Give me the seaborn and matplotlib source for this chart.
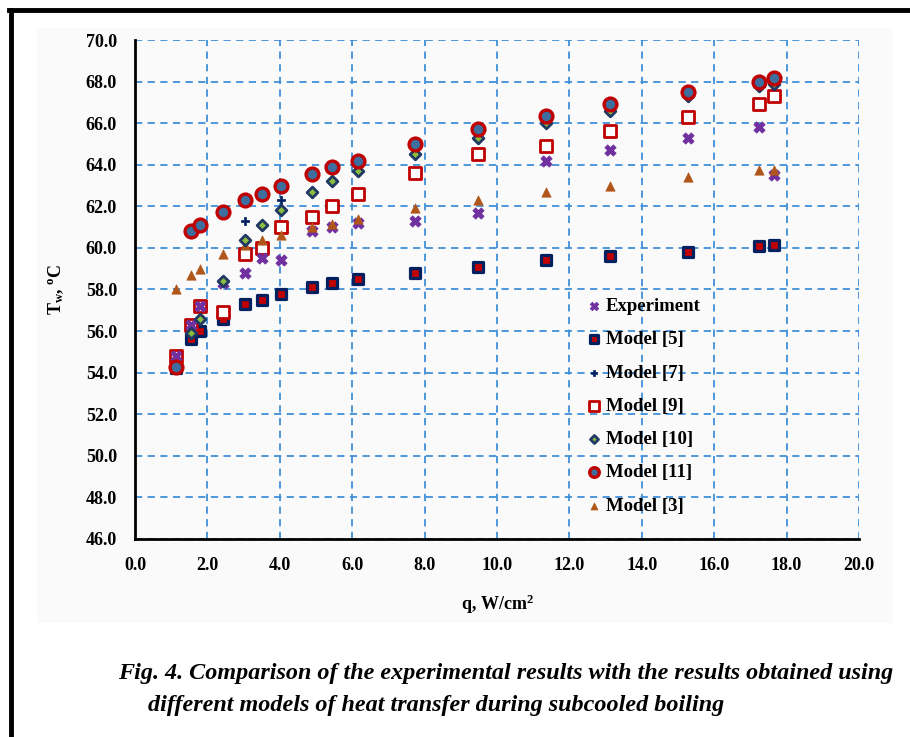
import numpy as np
import pandas as pd
import seaborn as sb
import matplotlib.pyplot as plt
from matplotlib.lines import Line2D
from matplotlib.patches import Rectangle

# data
q = [1.14, 1.54, 1.80, 2.42, 3.05, 3.50, 4.02, 4.89, 5.45, 6.17, 7.74, 9.47, 11.34, 13.12, 15.27, 17.25, 17.65]
experiment = [54.8, 56.3, 57.2, 58.3, 58.8, 59.5, 59.4, 60.8, 61.0, 61.2, 61.3, 61.7, 64.2, 64.7, 65.3, 65.8, 63.5]
model_5 = [54.2, 55.6, 56.0, 56.6, 57.3, 57.5, 57.8, 58.1, 58.3, 58.5, 58.8, 59.1, 59.4, 59.6, 59.8, 60.1, 60.15]
model_7 = [54.3, 55.9, 56.6, 58.4, 61.3, 61.1, 62.3, 62.7, 63.2, 63.7, 64.5, 65.3, 66.0, 66.6, 67.3, 67.8, 67.9]
model_9 = [54.8, 56.3, 57.2, 56.9, 59.7, 60.0, 61.0, 61.5, 62.0, 62.6, 63.6, 64.5, 64.9, 65.6, 66.3, 66.9, 67.3]
model_10 = [54.3, 55.9, 56.6, 58.4, 60.4, 61.1, 61.8, 62.7, 63.2, 63.7, 64.5, 65.3, 66.0, 66.6, 67.3, 67.8, 67.9]
model_11 = [54.25, 60.8, 61.1, 61.75, 62.3, 62.6, 63.0, 63.55, 63.9, 64.2, 65.0, 65.7, 66.35, 66.9, 67.5, 68.0, 68.15]
model_3 = [58.0, 58.7, 59.0, 59.7, 60.15, 60.4, 60.6, 61.0, 61.15, 61.4, 61.9, 62.3, 62.7, 63.0, 63.4, 63.75, 63.75]
legend_order = ["Experiment", "Model [5]", "Model [7]", "Model [9]", "Model [10]", "Model [11]", "Model [3]"]

# colours
gridcolor = "#3f8fd8"
navy = "#002060"
red = "#c00000"

plt.rcParams['font.family'] = ['Liberation Serif', 'DejaVu Serif']
plt.rcParams['font.weight'] = 'bold'
plt.rcParams['mathtext.fontset'] = 'custom'
plt.rcParams['mathtext.rm'] = 'Liberation Serif:bold'
plt.rcParams['mathtext.it'] = 'Liberation Serif:bold'
plt.rcParams['mathtext.bf'] = 'Liberation Serif:bold'

fig, ax = plt.subplots(1, 1, figsize=(9.1, 7.37), dpi=100)
fig.subplots_adjust(left=0.1484, right=0.944, top=0.9457, bottom=0.2687)

# faint chart area and page frame
fig.patches.append(Rectangle((37/910, 1-623/737), (893-37)/910, (623-28)/737, transform=fig.transFigure,
                             facecolor="#fafafa", edgecolor="none", zorder=-10))
fig.lines.append(Line2D([9/910, 1], [1-10/737, 1-10/737], transform=fig.transFigure, color="black", linewidth=3.5))
fig.lines.append(Line2D([11/910, 11/910], [0, 1-10/737], transform=fig.transFigure, color="black", linewidth=3.5))
ax.set_facecolor("none")

df = pd.DataFrame({"q": q, "Experiment": experiment, "Model [5]": model_5, "Model [7]": model_7,
                   "Model [9]": model_9, "Model [10]": model_10, "Model [11]": model_11, "Model [3]": model_3})

styles = {
    "Model [5]": dict(marker="s", color=red, edgecolor=navy, s=62, linewidth=2.3),
    "Model [9]": dict(marker="s", color="white", edgecolor=red, s=80, linewidth=2.0),
    "Experiment": dict(marker="X", color="#7030a0", edgecolor="#7030a0", s=65, linewidth=0.6),
    "Model [3]": dict(marker="^", color="#b0561a", edgecolor="#b0561a", s=45, linewidth=0.5),
    "Model [7]": dict(marker="P", color=navy, edgecolor=navy, s=30, linewidth=0.5),
    "Model [10]": dict(marker="D", color="#8cbd3f", edgecolor="#1f3864", s=30, linewidth=2.0),
    "Model [11]": dict(marker="o", color="#3d6e9e", edgecolor=red, s=85, linewidth=2.4),
}
for i, name in enumerate(styles):
    sb.scatterplot(data=df, x="q", y=name, ax=ax, label=name, zorder=3 + i, **styles[name])

ax.set_xlim(0, 20)
ax.set_ylim(46, 70)
ax.set_xticks(np.arange(0, 20.1, 2))
ax.set_yticks(np.arange(46, 70.1, 2))
ax.set_xticklabels(["%.1f" % v for v in np.arange(0, 20.1, 2)], fontsize=13, fontweight="bold")
ax.set_yticklabels(["%.1f" % v for v in np.arange(46, 70.1, 2)], fontsize=13, fontweight="bold")
ax.tick_params(axis="both", length=0)
ax.tick_params(axis="x", pad=13)
ax.tick_params(axis="y", pad=13)
ax.grid(True, color=gridcolor, linestyle=(0, (4, 3)), linewidth=1.3)
ax.set_axisbelow(True)
for b in ['top', 'right']:
    ax.spines[b].set_visible(False)
for b in ['left', 'bottom']:
    ax.spines[b].set_linewidth(2)
    ax.spines[b].set_color("black")
    ax.spines[b].set_zorder(2.5)

ax.set_xlabel(r"q, W/cm$^{2}$", fontsize=13, fontweight="bold")
ax.set_ylabel(r"T$_{w}$, $^{o}$C", fontsize=13, fontweight="bold")
ax.xaxis.set_label_coords(0.5, -0.108)
ax.yaxis.set_label_coords(-0.096, 0.5)

handles, labels = ax.get_legend_handles_labels()
hmap = dict(zip(labels, handles))
ax.legend([hmap[k] for k in legend_order], legend_order, loc="upper left",
          bbox_to_anchor=(585/910, 1-298/737), bbox_transform=fig.transFigure,
          frameon=False, prop={"weight": "bold", "size": 13.5}, handletextpad=0.1,
          handlelength=1.0, labelspacing=0.86, borderaxespad=0, borderpad=0, markerscale=0.75)

# caption, scaled to the width of the reference
cap1 = fig.text(118/910, 1-673/737, "Fig. 4. Comparison of the experimental results with the results obtained using",
                fontsize=20, fontweight="bold", fontstyle="italic", ha="left", va="center")
cap2 = fig.text(148/910, 1-705/737, "different models of heat transfer during subcooled boiling",
                fontsize=20, fontweight="bold", fontstyle="italic", ha="left", va="center")
fig.canvas.draw()
w = cap1.get_window_extent().width
for c in (cap1, cap2):
    c.set_fontsize(20 * 775 / w)

plt.savefig("out.png", dpi=100)
